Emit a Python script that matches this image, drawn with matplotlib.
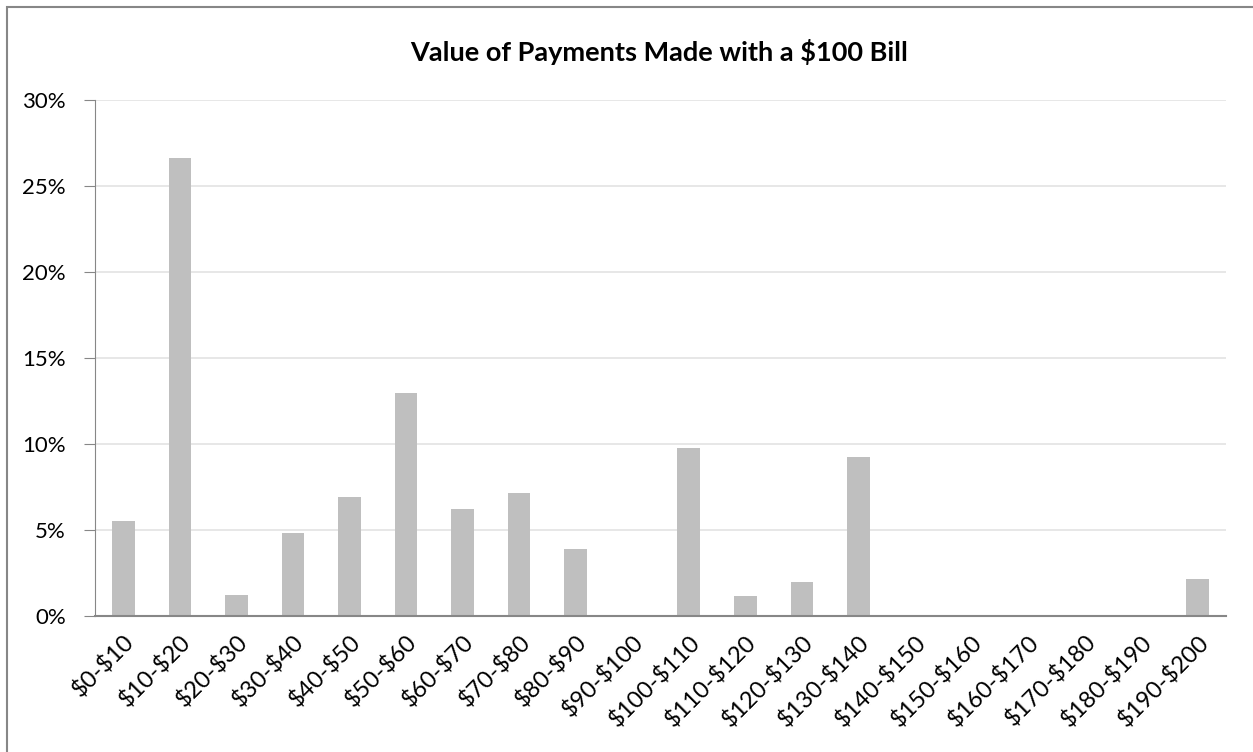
import matplotlib.pyplot as plt
from matplotlib.patches import Rectangle
from matplotlib.ticker import PercentFormatter

# Payment value buckets and share of payments (%)
categories = ["$0-$10", "$10-$20", "$20-$30", "$30-$40", "$40-$50", "$50-$60",
              "$60-$70", "$70-$80", "$80-$90", "$90-$100", "$100-$110", "$110-$120",
              "$120-$130", "$130-$140", "$140-$150", "$150-$160", "$160-$170",
              "$170-$180", "$180-$190", "$190-$200"]
share = [5.55, 26.6, 1.25, 4.8, 6.9, 12.95, 6.25, 7.17, 3.88, 0.0,
         9.77, 1.18, 1.96, 9.22, 0.0, 0.0, 0.0, 0.0, 0.0, 2.13]

plt.rcParams['font.family'] = ['Lato', 'DejaVu Sans']
plt.rcParams['text.parse_math'] = False

W, H = 1253, 752
fig = plt.figure(figsize=(W / 100, H / 100), dpi=100)
ax = fig.add_axes([95 / W, 1 - 616 / H, (1226 - 95) / W, (616 - 100) / H])

# Chart frame (only top and left edges fall inside the image)
fig.patches.append(Rectangle((7 / W, -0.05), 1.2, 1 - 7 / H + 0.05,
                             transform=fig.transFigure, fill=False,
                             edgecolor='#878787', linewidth=1.5))

x = range(len(categories))
ax.bar(x, share, width=0.4, color='#BFBFBF', zorder=2)

ax.set_xlim(-0.5, len(categories) - 0.5)
ax.set_ylim(0, 30)
ax.set_yticks(range(0, 31, 5))
ax.yaxis.set_major_formatter(PercentFormatter(decimals=0))
ax.grid(axis='y', color='#E3E3E3', linewidth=1.2, zorder=0)

for side in ['top', 'right']:
    ax.spines[side].set_visible(False)
ax.spines['left'].set_color('#878787')
ax.spines['bottom'].set_color('#878787')
ax.spines['bottom'].set_linewidth(1.5)

ax.tick_params(axis='y', length=8, color='#878787', labelsize=16, pad=13)
ax.tick_params(axis='x', length=0, labelsize=17, pad=11)
ax.set_xticks(list(x))
ax.set_xticklabels(categories, rotation=45, ha='right', va='top',
                   rotation_mode='anchor')

fig.text(659 / W, 1 - 52 / H, 'Value of Payments Made with a $100 Bill',
         ha='center', va='center', fontsize=19.5, fontweight='bold')

fig.savefig('out.png', dpi=100)
